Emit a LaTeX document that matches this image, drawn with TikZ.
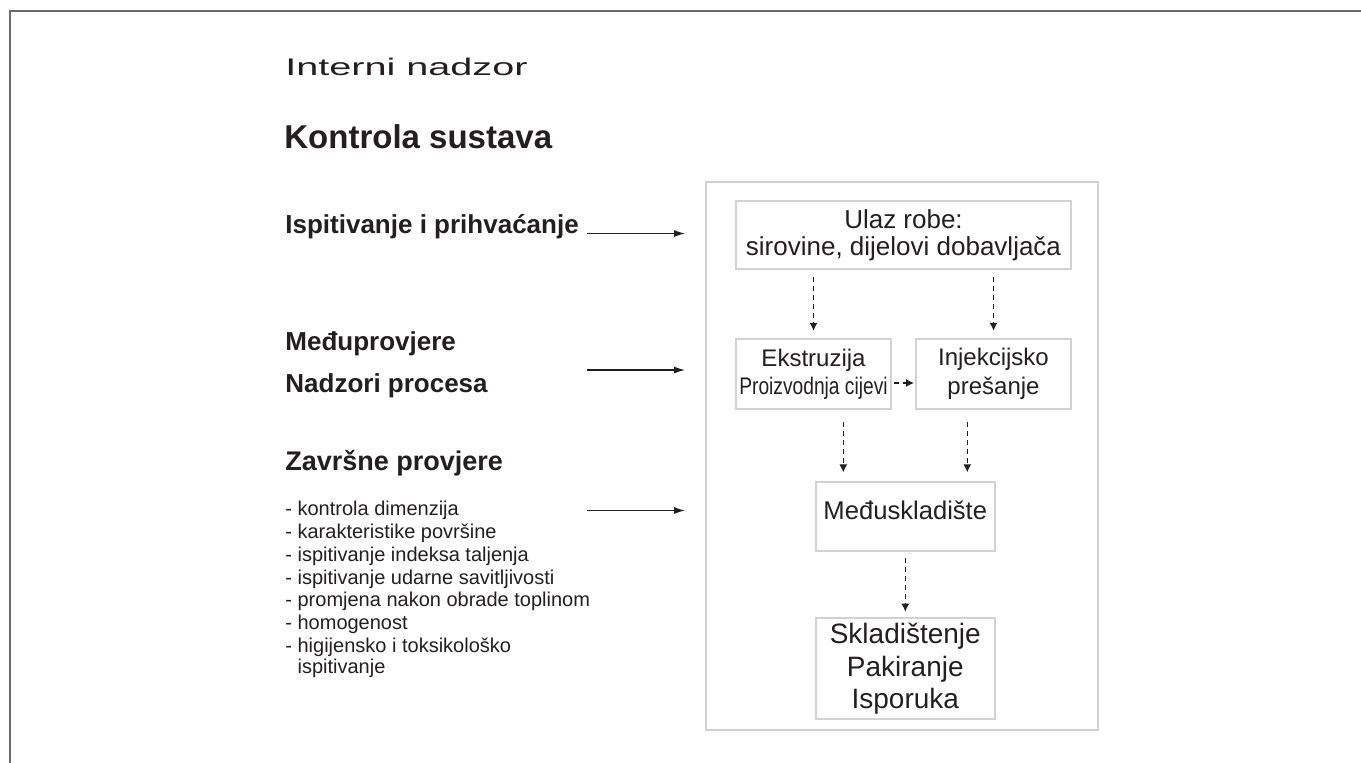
\documentclass[tikz,border=0pt]{standalone}
\usepackage{fontspec}
\setmainfont{Liberation Sans}
\newfontfamily\extfont[FakeStretch=1.65]{Liberation Sans}
\newfontfamily\condfont[FakeStretch=0.8]{Liberation Sans}
\usepackage{tikz}
\usetikzlibrary{arrows.meta,positioning}
\definecolor{ink}{HTML}{231F20}
\definecolor{boxline}{HTML}{D2D2D2}
\definecolor{framegrey}{HTML}{6B6B6B}
\tikzset{
    %Define standard arrow tip
    >={Latex[length=4pt,width=4pt]},
    %Define style for boxes
    stage/.style={
           rectangle,
           draw=boxline, line width=1pt,
           inner sep=0pt,
           text=ink,
           align=center},
    panel/.style={
           rectangle,
           draw=boxline, line width=1pt,
           minimum width=196pt,
           minimum height=274pt},
    heading/.style={
           anchor=base west,
           inner sep=0pt,
           text=ink,
           align=left,
           font=\bfseries\fontsize{13}{21}\selectfont},
    % Define arrow styles
    feed/.style={
           ->,
           >={Latex[length=5.5pt,width=3.5pt]},
           draw=ink,
           line width=0.65pt},
    flow/.style={
           ->,
           draw=ink,
           line width=0.6pt,
           dash pattern=on 2.5pt off 2pt}
}
\begin{document}
\begin{tikzpicture}[x=0.5pt,y=-0.5pt]
\useasboundingbox (0,0) rectangle (1361,762);
\draw[framegrey, line width=1pt] (10,770) -- (10,11) -- (1370,11);
 %headings
\node[heading, font=\extfont\fontsize{12}{14}\selectfont] (title) at (285,75) {Interni nadzor};
\node[heading, font=\bfseries\fontsize{16.5}{20}\selectfont] (sustav) at (284,148.3) {Kontrola sustava};
\node[heading] (ispit) at (285,233.3) {Ispitivanje i prihvaćanje};
\node[heading] (proces) at (285,392) {Međuprovjere\\Nadzori procesa};
\node[heading, font=\bfseries\fontsize{13.5}{21}\selectfont] (zavrs) at (285,470) {Završne provjere};
\node[heading, font=\fontsize{10}{11.45}\selectfont] (popis) at (285,673.3)
  {- kontrola dimenzija\\
   - karakteristike površine\\
   - ispitivanje indeksa taljenja\\
   - ispitivanje udarne savitljivosti\\
   - promjena nakon obrade toplinom\\
   - homogenost\\
   - higijensko i toksikološko\\[-1.15pt]
   \hphantom{- }ispitivanje};
 %flow chart
\node[panel] (okvir) at (902,456) {};
\node[stage, minimum width=167.5pt, minimum height=34pt,
  font=\fontsize{13}{13.3}\selectfont] (ulaz) at (903.5,235)
  {Ulaz robe:\\sirovine, dijelovi dobavljača};
\node[stage, minimum width=77.5pt, minimum height=35pt,
  font=\fontsize{12}{14}\selectfont, below=34pt of ulaz.south west, anchor=north west] (ekstr)
  {Ekstruzija\\{\condfont Proizvodnja cijevi}};
\node[stage, minimum width=77.5pt, minimum height=35pt,
  font=\fontsize{12}{14.5}\selectfont, below=34pt of ulaz.south east, anchor=north east] (injek)
  {Injekcijsko\\prešanje};
\node[stage, minimum width=89.3pt, minimum height=34.5pt, text height=9pt, text depth=6pt,
  font=\fontsize{12.8}{15}\selectfont] (medju) at (905.3,516.8) {Međuskladište};
\node[stage, minimum width=89.5pt, minimum height=50.5pt,
  font=\fontsize{14}{16.2}\selectfont, below=32.5pt of medju] (sklad)
  {Skladištenje\\Pakiranje\\Isporuka};
\coordinate (m1) at ([xshift=-31pt]medju.north);
\coordinate (m2) at ([xshift=31pt]medju.north);
\coordinate (in1) at (587,233.5);
\coordinate (in2) at (587,370);
\coordinate (in3) at (587,510.5);
 %arrows
\draw[feed, shorten >=10pt] (in1) -- (in1 -| okvir.west);
\draw[feed, shorten >=10pt] (in2) -- (in2 -| okvir.west);
\draw[feed, shorten >=10pt] (in3) -- (in3 -| okvir.west);
\draw[flow, shorten <=3.7pt, shorten >=3.6pt] (ekstr.north |- ulaz.south) -- (ekstr.north);
\draw[flow, shorten <=3.7pt, shorten >=3.6pt] (injek.north |- ulaz.south) -- (injek.north);
\draw[flow, shorten <=1pt, shorten >=0.5pt] ([yshift=-4.5pt]ekstr.east) -- ([yshift=-4.5pt]injek.west);
\draw[flow, shorten <=6.2pt, shorten >=4.5pt] (m1 |- ekstr.south) -- (m1);
\draw[flow, shorten <=6.2pt, shorten >=4.5pt] (m2 |- injek.south) -- (m2);
\draw[flow, shorten <=2.7pt, shorten >=2.8pt] (medju.south) -- (sklad.north);
\end{tikzpicture}
\end{document}
